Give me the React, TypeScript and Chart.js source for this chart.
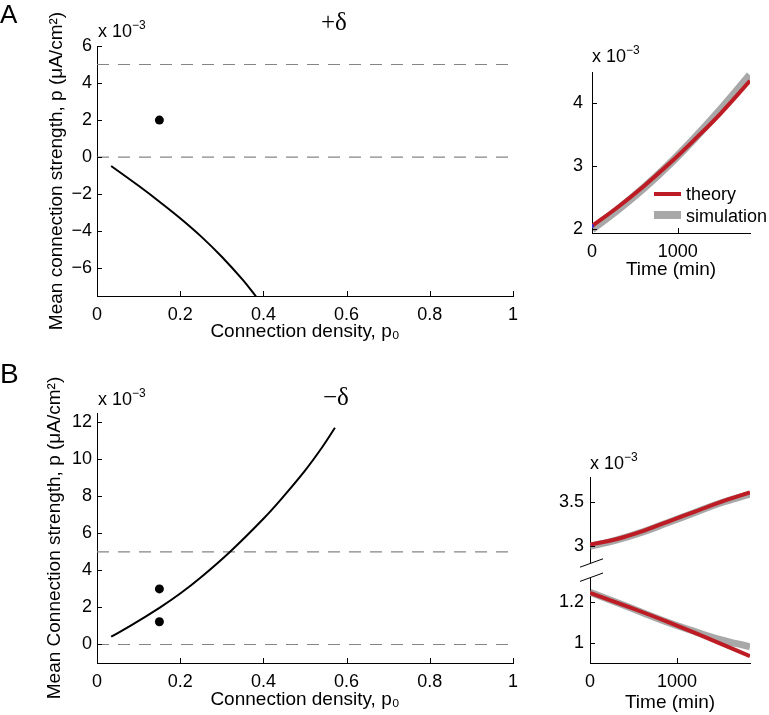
import React, { useEffect, useRef } from 'react';
import { Chart, registerables } from 'chart.js';

Chart.register(...registerables);

const FONT = '"Liberation Sans", Arial, Helvetica, sans-serif';
const SERIF = '"Liberation Serif", "Times New Roman", serif';
Chart.defaults.font.family = FONT;

// ---------- Data: panel A (+delta) ----------
const densityTicks = [0, 0.2, 0.4, 0.6, 0.8, 1];
const aYTicks = [-6, -4, -2, 0, 2, 4, 6];
const aCurveX = [0.034, 0.1, 0.151, 0.2, 0.25, 0.3, 0.35, 0.381, 0.4];
const aCurveY = [-0.48, -1.55, -2.42, -3.3, -4.28, -5.38, -6.62, -7.49, -8.05];
const aDotX = [0.15];
const aDotY = [2.0];

// ---------- Data: panel B (-delta) ----------
const bYTicks = [0, 2, 4, 6, 8, 10, 12];
const bCurveX = [0.034, 0.08, 0.151, 0.2, 0.25, 0.32, 0.4, 0.45, 0.5, 0.54, 0.572];
const bCurveY = [0.42, 1.0, 1.99, 2.75, 3.63, 5.01, 6.79, 8.04, 9.39, 10.61, 11.7];
const bDotX = [0.15, 0.15];
const bDotY = [3.0, 1.23];

// reference (dashed) levels shared by both main panels
const refLevels = [0, 5];
const refXRange = [0, 1];

// ---------- Data: inset A ----------
const timeTicks = [0, 1000];
const insetAYTicks = [2, 3, 4];
const insetATime = [0, 300, 600, 900, 1200, 1500, 1843];
const insetATheory = [2.05, 2.35, 2.68, 3.04, 3.43, 3.84, 4.36];
const insetASimulation = [2.0, 2.31, 2.65, 3.03, 3.45, 3.9, 4.45];
const insetAStartX = [0];
const insetAStartY = [2.05];

// ---------- Data: inset B (broken axis) ----------
const insetBUpperTicks = [3, 3.5];
const insetBLowerTicks = [1, 1.2];
const insetBTime = [0, 300, 600, 900, 1200, 1500, 1840];
const insetBUpperTheory = [3.02, 3.08, 3.17, 3.28, 3.39, 3.5, 3.61];
const insetBUpperSimulation = [3.0, 3.07, 3.16, 3.27, 3.38, 3.49, 3.59];
const insetBLowerTheory = [1.246, 1.2, 1.152, 1.102, 1.05, 0.996, 0.934];
const insetBLowerSimulation = [1.25, 1.2, 1.15, 1.1, 1.056, 1.016, 0.98];

const RED = '#bd1c24';
const GRAY = '#a8a8a8';
const DASH = '#858585';

const pts = (xs: number[], ys: number[]) => xs.map((x, i) => ({ x, y: ys[i] }));

const lineDs = (xs: number[], ys: number[], color: string, width: number, order: number, extra: any = {}) => ({
  data: pts(xs, ys),
  showLine: true,
  borderColor: color,
  backgroundColor: color,
  borderWidth: width,
  pointRadius: 0,
  fill: false,
  tension: 0.4,
  order,
  ...extra,
});

const dotDs = (xs: number[], ys: number[], color: string, r: number, order: number) => ({
  data: pts(xs, ys),
  showLine: false,
  pointRadius: r,
  pointBackgroundColor: color,
  backgroundColor: color,
  pointBorderWidth: 0,
  borderWidth: 0,
  order,
});

const refDs = (level: number) =>
  lineDs(refXRange, [level, level], DASH, 1.2, 5, { borderDash: [12, 9], tension: 0 });

const fmt = (v: number) => String(v).replace('-', '\u2212');

const decorPlugin = {
  id: 'decor',
  afterDraw(chart: any, _args: any, opts: any) {
    const { ctx, chartArea } = chart;
    const len = opts.tickLen ?? 5;
    const xs = chart.scales.x;
    const ys = chart.scales.y;
    ctx.save();
    ctx.strokeStyle = '#000';
    ctx.lineWidth = 1;
    ctx.beginPath();
    if (xs.options.display) {
      for (const t of xs.ticks) {
        const px = Math.round(xs.getPixelForValue(t.value)) + 0.5;
        ctx.moveTo(px, chartArea.bottom);
        ctx.lineTo(px, chartArea.bottom - len);
      }
    }
    for (const t of ys.ticks) {
      const py = Math.round(ys.getPixelForValue(t.value)) + 0.5;
      ctx.moveTo(chartArea.left, py);
      ctx.lineTo(chartArea.left + len, py);
    }
    ctx.stroke();
    const x = chartArea.left;
    if (opts.breakMark === 'bottom') {
      const y = chartArea.bottom;
      ctx.beginPath();
      ctx.moveTo(x - 10, y + 5);
      ctx.lineTo(x + 13, y - 3.4);
      ctx.stroke();
    } else if (opts.breakMark === 'top') {
      const y = chartArea.top;
      ctx.beginPath();
      ctx.moveTo(x - 10, y + 3.4);
      ctx.lineTo(x + 13, y - 5);
      ctx.stroke();
    }
    ctx.restore();
  },
};

type Cfg = {
  datasets: any[];
  padding: { left: number; top: number; right: number; bottom: number };
  xMin: number; xMax: number; xTicks: number[]; xTitle?: string; xHeight: number; xDisplay?: boolean;
  yMin: number; yMax: number; yTicks: number[]; yTitle?: string; yWidth: number; yPad: number;
  breakMark?: string;
};

function makeConfig(c: Cfg): any {
  return {
    type: 'scatter',
    data: { datasets: c.datasets },
    plugins: [decorPlugin],
    options: {
      responsive: false,
      animation: false,
      events: [],
      layout: { padding: c.padding, autoPadding: false },
      plugins: {
        legend: { display: false },
        tooltip: { enabled: false },
        decor: { tickLen: 5, breakMark: c.breakMark },
      },
      scales: {
        x: {
          type: 'linear',
          display: c.xDisplay !== false,
          min: c.xMin,
          max: c.xMax,
          afterBuildTicks: (s: any) => { s.ticks = c.xTicks.map((v) => ({ value: v })); },
          afterFit: (s: any) => { s.height = c.xHeight; },
          grid: { display: false, drawTicks: false, tickLength: 0 },
          border: { display: true, color: '#000', width: 1 },
          ticks: { color: '#000', font: { family: FONT, size: 18 }, padding: 8, maxRotation: 0, autoSkip: false, callback: (v: number) => fmt(v) },
          title: { display: !!c.xTitle, text: c.xTitle, color: '#000', font: { family: FONT, size: 19 }, padding: 0 },
        },
        y: {
          type: 'linear',
          min: c.yMin,
          max: c.yMax,
          afterBuildTicks: (s: any) => { s.ticks = c.yTicks.map((v) => ({ value: v })); },
          afterFit: (s: any) => { s.width = c.yWidth; },
          grid: { display: false, drawTicks: false, tickLength: 0 },
          border: { display: true, color: '#000', width: 1 },
          ticks: { color: '#000', font: { family: FONT, size: 18 }, padding: c.yPad, autoSkip: false, callback: (v: number) => fmt(v) },
          title: { display: !!c.yTitle, text: c.yTitle, color: '#000', font: { family: FONT, size: 19 }, padding: 0 },
        },
      },
    },
  };
}

function ChartCanvas({ left, top, width, height, config }: { left: number; top: number; width: number; height: number; config: any }) {
  const ref = useRef<HTMLCanvasElement>(null);
  useEffect(() => {
    const chart = new Chart(ref.current as HTMLCanvasElement, config);
    return () => chart.destroy();
  }, []);
  return (
    <canvas
      ref={ref}
      width={width}
      height={height}
      style={{ position: 'absolute', left, top, width, height }}
    />
  );
}

function Exp({ left, top }: { left: number; top: number }) {
  return (
    <div style={{ position: 'absolute', left, top, fontFamily: FONT, fontSize: 18, lineHeight: 1, whiteSpace: 'nowrap', color: '#000' }}>
      x 10<span style={{ fontSize: 12, position: 'relative', top: -8 }}>{'\u22123'}</span>
    </div>
  );
}

function Txt({ left, top, size, family, children }: any) {
  return (
    <div style={{ position: 'absolute', left, top, fontFamily: family, fontSize: size, lineHeight: 1, whiteSpace: 'nowrap', color: '#000' }}>
      {children}
    </div>
  );
}

const mainA = makeConfig({
  datasets: [
    lineDs(aCurveX, aCurveY, '#000', 2, 0),
    dotDs(aDotX, aDotY, '#000', 4.5, 0),
    ...refLevels.map(refDs),
  ],
  padding: { left: 45, top: 46, right: 17, bottom: 0 },
  xMin: 0, xMax: 1, xTicks: densityTicks, xTitle: 'Connection density, p\u2080', xHeight: 47,
  yMin: -7.5, yMax: 6, yTicks: aYTicks, yTitle: 'Mean connection strength, p (\u03bcA/cm\u00b2)', yWidth: 52, yPad: 5,
});

const mainB = makeConfig({
  datasets: [
    lineDs(bCurveX, bCurveY, '#000', 2, 0),
    dotDs(bDotX, bDotY, '#000', 4.5, 0),
    ...refLevels.map(refDs),
  ],
  padding: { left: 43, top: 53, right: 17, bottom: 0 },
  xMin: 0, xMax: 1, xTicks: densityTicks, xTitle: 'Connection density, p\u2080', xHeight: 48,
  yMin: -1, yMax: 12.5, yTicks: bYTicks, yTitle: 'Mean Connection strength, p (\u03bcA/cm\u00b2)', yWidth: 54, yPad: 5,
});

const insetA = makeConfig({
  datasets: [
    dotDs(insetAStartX, insetAStartY, '#2a2ad0', 2, 0),
    lineDs(insetATime, insetATheory, RED, 4, 1),
    lineDs(insetATime, insetASimulation, GRAY, 8, 2),
  ],
  padding: { left: 0, top: 32, right: 19, bottom: 0 },
  xMin: 0, xMax: 1843, xTicks: timeTicks, xTitle: 'Time (min)', xHeight: 48,
  yMin: 1.94, yMax: 4.5, yTicks: insetAYTicks, yWidth: 42, yPad: 9,
});

const insetBUpper = makeConfig({
  datasets: [
    lineDs(insetBTime, insetBUpperTheory, RED, 4, 1),
    lineDs(insetBTime, insetBUpperSimulation, GRAY, 7, 2),
  ],
  padding: { left: 0, top: 17, right: 19, bottom: 12 },
  xMin: 0, xMax: 1840, xTicks: timeTicks, xHeight: 0, xDisplay: false,
  yMin: 2.82, yMax: 3.785, yTicks: insetBUpperTicks, yWidth: 40, yPad: 6,
  breakMark: 'bottom',
});

const insetBLower = makeConfig({
  datasets: [
    lineDs(insetBTime, insetBLowerTheory, RED, 4, 1),
    lineDs(insetBTime, insetBLowerSimulation, GRAY, 7, 2),
  ],
  padding: { left: 0, top: 18, right: 19, bottom: 0 },
  xMin: 0, xMax: 1840, xTicks: timeTicks, xTitle: 'Time (min)', xHeight: 51,
  yMin: 0.9, yMax: 1.32, yTicks: insetBLowerTicks, yWidth: 40, yPad: 6,
  breakMark: 'top',
});

export default function App() {
  return (
    <div style={{ position: 'absolute', left: 0, top: 0, width: 769, height: 715, background: '#fff', overflow: 'hidden' }}>
      <ChartCanvas left={0} top={0} width={530} height={343} config={mainA} />
      <ChartCanvas left={0} top={360} width={530} height={351} config={mainB} />
      <ChartCanvas left={550} top={40} width={219} height={241} config={insetA} />
      <ChartCanvas left={550} top={460} width={219} height={119} config={insetBUpper} />
      <ChartCanvas left={550} top={560} width={219} height={154} config={insetBLower} />

      <Txt left={0} top={1} size={26} family={FONT}>A</Txt>
      <Txt left={0} top={360} size={28} family={FONT}>B</Txt>
      <Txt left={321} top={9} size={25} family={SERIF}>+δ</Txt>
      <Txt left={323} top={384} size={25} family={SERIF}>{'\u2212δ'}</Txt>

      <Exp left={98} top={22} />
      <Exp left={98} top={390} />
      <Exp left={592} top={47} />
      <Exp left={590} top={454} />

      {/* inset A legend */}
      <div style={{ position: 'absolute', left: 654, top: 192, width: 27, height: 4, background: RED }} />
      <Txt left={686} top={185} size={18} family={FONT}>theory</Txt>
      <div style={{ position: 'absolute', left: 654, top: 211, width: 27, height: 8, background: GRAY }} />
      <Txt left={686} top={207} size={18} family={FONT}>simulation</Txt>
    </div>
  );
}
